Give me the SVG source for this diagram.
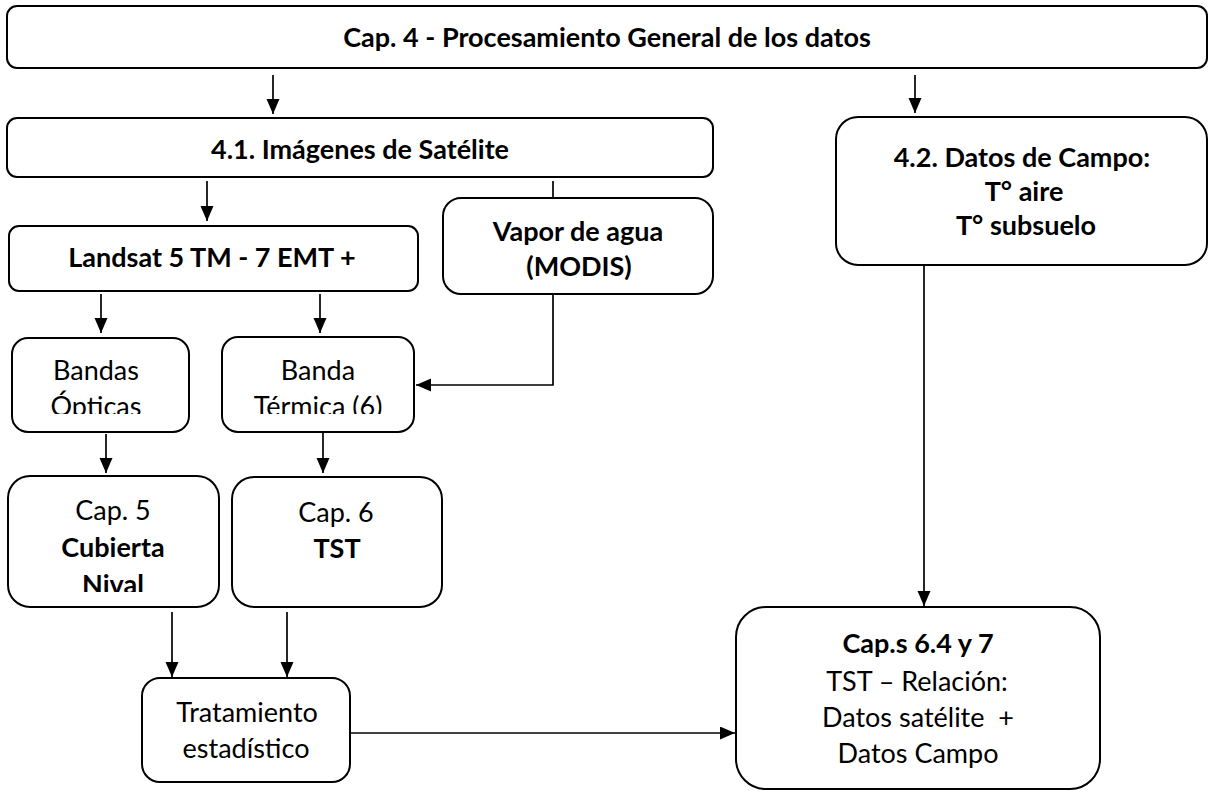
<svg xmlns="http://www.w3.org/2000/svg" width="1210" height="792" viewBox="0 0 1210 792">
<style>
.box{fill:#fff;stroke:#000;stroke-width:2}
.con{fill:none;stroke:#000;stroke-width:1.7}
text{font-family:Lato,"Liberation Sans",sans-serif;fill:#000;text-anchor:middle}
.b{font-weight:bold;font-size:27px}
.r{font-size:27px}
</style>
<defs>
<marker id="ah" markerUnits="userSpaceOnUse" markerWidth="16" markerHeight="14" refX="15" refY="6.5" orient="auto">
<path d="M0,0 L15,6.5 L0,13 z" fill="#000"/>
</marker>
<clipPath id="clipBandas"><rect x="12" y="338" width="177" height="76"/></clipPath>
<clipPath id="clipBanda"><rect x="222" y="337" width="192" height="77"/></clipPath>
<clipPath id="clipCap5"><rect x="8" y="476" width="211" height="116"/></clipPath>
</defs>
<g id="connectors">
<path class="con" d="M273,75 V114" marker-end="url(#ah)"/>
<path class="con" d="M915,75 V113" marker-end="url(#ah)"/>
<path class="con" d="M207,181 V221" marker-end="url(#ah)"/>
<path class="con" d="M553,181 V198"/>
<path class="con" d="M101,294 V333" marker-end="url(#ah)"/>
<path class="con" d="M320,294 V333" marker-end="url(#ah)"/>
<path class="con" d="M553,294 V385 H416" marker-end="url(#ah)"/>
<path class="con" d="M106,434 V473" marker-end="url(#ah)"/>
<path class="con" d="M323,433 V473" marker-end="url(#ah)"/>
<path class="con" d="M172,612 V677" marker-end="url(#ah)"/>
<path class="con" d="M287,612 V677" marker-end="url(#ah)"/>
<path class="con" d="M350,733 H735" marker-end="url(#ah)"/>
<path class="con" d="M924,265 V606" marker-end="url(#ah)"/>
</g>
<g id="cap4">
<rect class="box" x="7" y="6" width="1200" height="62" rx="10"/>
<text class="b" x="607" y="47">Cap. 4 - Procesamiento General de los datos</text>
</g>
<g id="imagenes">
<rect class="box" x="7" y="118" width="706" height="59" rx="10"/>
<text class="b" x="360" y="159">4.1. Imágenes de Satélite</text>
</g>
<g id="datoscampo">
<rect class="box" x="836" y="117" width="371" height="148" rx="22"/>
<text class="b" x="1022" y="167">4.2. Datos de Campo:</text>
<text class="b" x="1024" y="201">T° aire</text>
<text class="b" x="1026" y="235">T° subsuelo</text>
</g>
<g id="landsat">
<rect class="box" x="9" y="226" width="409" height="65" rx="10"/>
<text class="b" x="212" y="267">Landsat 5 TM - 7 EMT +</text>
</g>
<g id="vapor">
<rect class="box" x="443" y="198" width="270" height="96" rx="18"/>
<text class="b" x="578" y="241">Vapor de agua</text>
<text class="b" x="579" y="276">(MODIS)</text>
</g>
<g id="bandas">
<rect class="box" x="12" y="338" width="177" height="94" rx="16"/>
<g clip-path="url(#clipBandas)">
<text class="r" x="96" y="380">Bandas</text>
<text class="r" x="96" y="416">Ópticas</text>
</g>
</g>
<g id="banda">
<rect class="box" x="222" y="337" width="192" height="95" rx="16"/>
<g clip-path="url(#clipBanda)">
<text class="r" x="318" y="380">Banda</text>
<text class="r" x="318" y="416">Térmica (6)</text>
</g>
</g>
<g id="cap5">
<rect class="box" x="8" y="476" width="211" height="131" rx="22"/>
<g clip-path="url(#clipCap5)">
<text class="r" x="113" y="520">Cap. 5</text>
<text class="b" x="113" y="557">Cubierta</text>
<text class="b" x="113" y="594">Nival</text>
</g>
</g>
<g id="cap6">
<rect class="box" x="232" y="477" width="210" height="130" rx="22"/>
<text class="r" x="336" y="522">Cap. 6</text>
<text class="b" x="337" y="558">TST</text>
</g>
<g id="tratamiento">
<rect class="box" x="142" y="678" width="208" height="104" rx="18"/>
<text class="r" x="247" y="722">Tratamiento</text>
<text class="r" x="246" y="758">estadístico</text>
</g>
<g id="caps67">
<rect class="box" x="736" y="607" width="364" height="182" rx="30"/>
<text class="b" x="918" y="653">Cap.s 6.4 y 7</text>
<text class="r" x="917" y="691">TST – Relación:</text>
<text class="r" x="918" y="727" xml:space="preserve">Datos satélite  +</text>
<text class="r" x="918" y="763">Datos Campo</text>
</g>
</svg>
